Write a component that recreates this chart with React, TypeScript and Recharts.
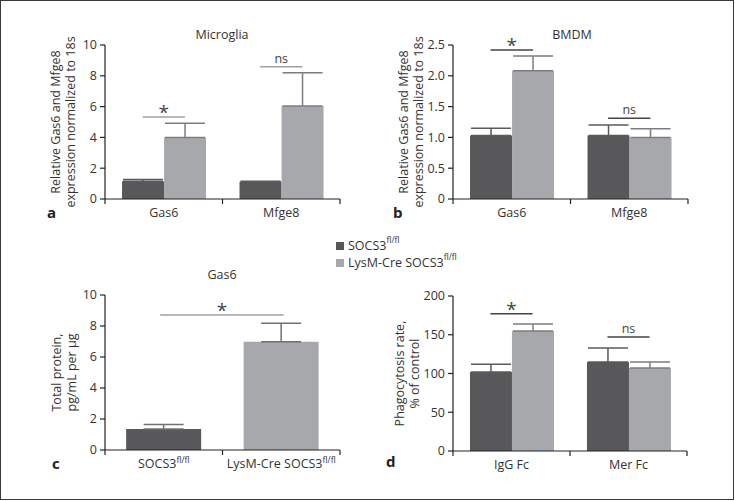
import React from 'react';
import { BarChart, Bar, XAxis, YAxis, ErrorBar, ReferenceLine, Cell } from 'recharts';

// panel a/b categories
const genes = ['Gas6', 'Mfge8'];

// a: microglia
const microgliaCtrl = [1.15, 1.12];
const microgliaCtrlErr = [0.12, 0.04];
const microgliaKo = [4.0, 6.04];
const microgliaKoErr = [0.92, 2.16];

// b: BMDM
const bmdmCtrl = [1.03, 1.03];
const bmdmCtrlErr = [0.12, 0.17];
const bmdmKo = [2.08, 1.0];
const bmdmKoErr = [0.24, 0.14];

// c: Gas6 protein
const genotypes = ['SOCS3^fl/fl', 'LysM-Cre SOCS3^fl/fl'];
const protein = [1.35, 6.99];
const proteinErr = [0.3, 1.18];

// d: phagocytosis
const fcs = ['IgG Fc', 'Mer Fc'];
const phagoCtrl = [102, 115];
const phagoCtrlErr = [10, 18];
const phagoKo = [155, 107];
const phagoKoErr = [9, 8];

// significance bars: [x1, x2, y, label], x in category units (0..n)
const sigA: [number, number, number, string][] = [[0.32, 0.68, 5.32, '*'], [1.32, 1.68, 8.59, 'ns']];
const sigB: [number, number, number, string][] = [[0.32, 0.68, 2.42, '*'], [1.32, 1.68, 1.31, 'ns']];
const sigC: [number, number, number, string][] = [[0.47, 1.52, 8.71, '*']];
const sigD: [number, number, number, string][] = [[0.32, 0.68, 177, '*'], [1.32, 1.68, 147, 'ns']];

const DARK = '#58585a';
const LIGHT = '#a7a8ab';
const AXIS = '#222';
const TEXT = '#333';
const FONT = '"Open Sans", sans-serif';
const FS = 12.5;

const pairData = (cats: string[], c: number[], ce: number[], k: number[], ke: number[]) =>
  cats.map((name, i) => ({ name, ctrl: c[i], ctrlErr: [0, ce[i]], ko: k[i], koErr: [0, ke[i]] }));

function CatTick(props: any) {
  const { x, y, payload, index, half } = props;
  const off = payload?.offset || half;
  const [base, sup] = String(payload.value).split('^');
  return (
    <g>
      {index === 0 && <line x1={x - off} x2={x - off} y1={y} y2={y + 5} stroke={AXIS} strokeWidth={1.2} />}
      <line x1={x + off} x2={x + off} y1={y} y2={y + 5} stroke={AXIS} strokeWidth={1.2} />
      <text x={x} y={y + 18} textAnchor="middle" fontSize={FS} fill={TEXT} fontFamily={FONT}>
        {base}
        {sup && <tspan dy={-5} fontSize={8.5}>{sup}</tspan>}
      </text>
    </g>
  );
}

function YLab(props: any) {
  const { viewBox, lines, gap } = props;
  const right = viewBox.x + viewBox.width;
  const cy = viewBox.y + viewBox.height / 2;
  const cx = right - gap;
  return (
    <text transform={`rotate(-90, ${cx}, ${cy})`} x={cx} y={cy} textAnchor="middle" fontSize={FS} fill={TEXT} fontFamily={FONT}>
      <tspan x={cx} dy={6}>{lines[0]}</tspan>
      <tspan x={cx} dy={15}>{lines[1]}</tspan>
    </text>
  );
}

type PanelProps = {
  left: number; top: number; width: number; height: number;
  plotLeft: number; plotTop: number; plotRight: number; plotBottom: number;
  data: any[]; domain: [number, number]; ticks: number[]; fmt?: (v: number) => string;
  ylabel: string[]; labGap: number; sig: [number, number, number, string][];
  single?: boolean; sigColor: string; gapPct: string;
};

function Panel(p: PanelProps) {
  const yW = p.plotLeft - p.left;
  const xH = p.height - (p.plotBottom - p.top);
  const n = p.data.length;
  const half = (p.plotRight - p.plotLeft) / n / 2;
  return (
    <div style={{ position: 'absolute', left: p.left, top: p.top }}>
      <BarChart width={p.width} height={p.height} data={p.data} barGap={0} barCategoryGap={p.gapPct}
        margin={{ top: p.plotTop - p.top, right: p.left + p.width - p.plotRight, left: 0, bottom: 0 }}>
        <XAxis dataKey="name" height={xH} tickLine={false} tickSize={0} tickMargin={0}
          stroke={AXIS} strokeWidth={1.2} interval={0} tick={<CatTick half={half} />} />
        <XAxis xAxisId="sig" type="number" domain={[0, 1]} allowDataOverflow hide />
        <YAxis width={yW} domain={p.domain} ticks={p.ticks} tickFormatter={p.fmt} tickSize={5} tickMargin={3}
          stroke={AXIS} strokeWidth={1.2} interval={0}
          tick={{ fontSize: FS, fill: TEXT, fontFamily: FONT }}
          label={<YLab lines={p.ylabel} gap={p.labGap} />} />
        {p.single ? (
          <Bar dataKey="v" isAnimationActive={false}>
            {p.data.map((_, i) => <Cell key={i} fill={i === 0 ? DARK : LIGHT} />)}
            <ErrorBar dataKey="e" width={20} stroke="#707072" strokeWidth={1.5} />
          </Bar>
        ) : null}
        {!p.single && (
          <Bar dataKey="ctrl" fill={DARK} isAnimationActive={false}>
            <ErrorBar dataKey="ctrlErr" width={20} stroke="#5a5a5c" strokeWidth={1.5} />
          </Bar>
        )}
        {!p.single && (
          <Bar dataKey="ko" fill={LIGHT} isAnimationActive={false}>
            <ErrorBar dataKey="koErr" width={20} stroke="#7c7d80" strokeWidth={1.5} />
          </Bar>
        )}
        {p.sig.map(([x1, x2, y, lab], i) => (
          <ReferenceLine key={i} xAxisId="sig" segment={[{ x: x1 / n, y }, { x: x2 / n, y }]} stroke={p.sigColor} strokeWidth={1.5}
            ifOverflow="visible"
            label={{ value: lab, position: 'top', offset: lab === '*' ? -2 : 4, fill: '#444', fontSize: lab === '*' ? 19 : FS, fontFamily: FONT }} />
        ))}
      </BarChart>
    </div>
  );
}

const dataA = pairData(genes, microgliaCtrl, microgliaCtrlErr, microgliaKo, microgliaKoErr);
const dataB = pairData(genes, bmdmCtrl, bmdmCtrlErr, bmdmKo, bmdmKoErr);
const dataC = genotypes.map((name, i) => ({ name, v: protein[i], e: [0, proteinErr[i]] }));
const dataD = pairData(fcs, phagoCtrl, phagoCtrlErr, phagoKo, phagoKoErr);

const txt: React.CSSProperties = { position: 'absolute', fontFamily: FONT, fontSize: FS, color: TEXT, whiteSpace: 'nowrap' };
const letter: React.CSSProperties = { ...txt, fontWeight: 700, fontSize: 15, color: '#222' };
const sq = (c: string): React.CSSProperties => ({ display: 'inline-block', width: 8, height: 8, background: c, marginRight: 4 });
const sup: React.CSSProperties = { fontSize: 8.5, verticalAlign: 'top', lineHeight: 1, position: 'relative', top: -1 };

export default function App() {
  return (
    <div style={{ position: 'absolute', left: 0, top: 0, width: 735, height: 501, background: '#fff' }}>
      <div style={{ position: 'absolute', left: 0, top: 0, width: 734, height: 500, boxSizing: 'border-box', border: '1.5px solid #3a3a3a' }} />
      <Panel left={0} top={20} width={360} height={220} plotLeft={105} plotTop={45} plotRight={340} plotBottom={199}
        data={dataA} domain={[0, 10]} ticks={[0, 2, 4, 6, 8, 10]} ylabel={['Relative Gas6 and Mfge8', 'expression normalized to 18s']}
        labGap={51} sig={sigA} sigColor="#a0a0a2" gapPct="14.5%" />
      <Panel left={367} top={20} width={340} height={220} plotLeft={453} plotTop={45} plotRight={688} plotBottom={199}
        data={dataB} domain={[0, 2.5]} ticks={[0, 0.5, 1, 1.5, 2, 2.5]} fmt={(v) => (v === 0 ? '0' : v.toFixed(1))}
        ylabel={['Relative Gas6 and Mfge8', 'expression normalized to 18s']}
        labGap={51} sig={sigB} sigColor="#444" gapPct="14.5%" />
      <Panel left={0} top={260} width={360} height={220} plotLeft={105} plotTop={295} plotRight={340} plotBottom={450}
        data={dataC} domain={[0, 10]} ticks={[0, 2, 4, 6, 8, 10]} ylabel={['Total protein,', 'pg/mL per µg']}
        labGap={50} sig={sigC} sigColor="#a0a0a2" gapPct="18%" single />
      <Panel left={367} top={260} width={340} height={220} plotLeft={453} plotTop={296} plotRight={687} plotBottom={451}
        data={dataD} domain={[0, 200]} ticks={[0, 50, 100, 150, 200]} ylabel={['Phagocytosis rate,', '% of control']}
        labGap={55} sig={sigD} sigColor="#444" gapPct="14.5%" />

      <div style={{ ...txt, left: 162, width: 120, textAlign: 'center', top: 26 }}>Microglia</div>
      <div style={{ ...txt, left: 512, width: 120, textAlign: 'center', top: 26 }}>BMDM</div>
      <div style={{ ...txt, left: 162, width: 120, textAlign: 'center', top: 266 }}>Gas6</div>

      <div style={{ ...letter, left: 47, top: 202 }}>a</div>
      <div style={{ ...letter, left: 393, top: 202 }}>b</div>
      <div style={{ ...letter, left: 52, top: 453 }}>c</div>
      <div style={{ ...letter, left: 386, top: 451 }}>d</div>

      <div style={{ ...txt, left: 336, top: 237, lineHeight: '17px' }}>
        <div><span style={sq(DARK)} />SOCS3<span style={sup}>fl/fl</span></div>
        <div><span style={sq(LIGHT)} />LysM-Cre SOCS3<span style={sup}>fl/fl</span></div>
      </div>
    </div>
  );
}
